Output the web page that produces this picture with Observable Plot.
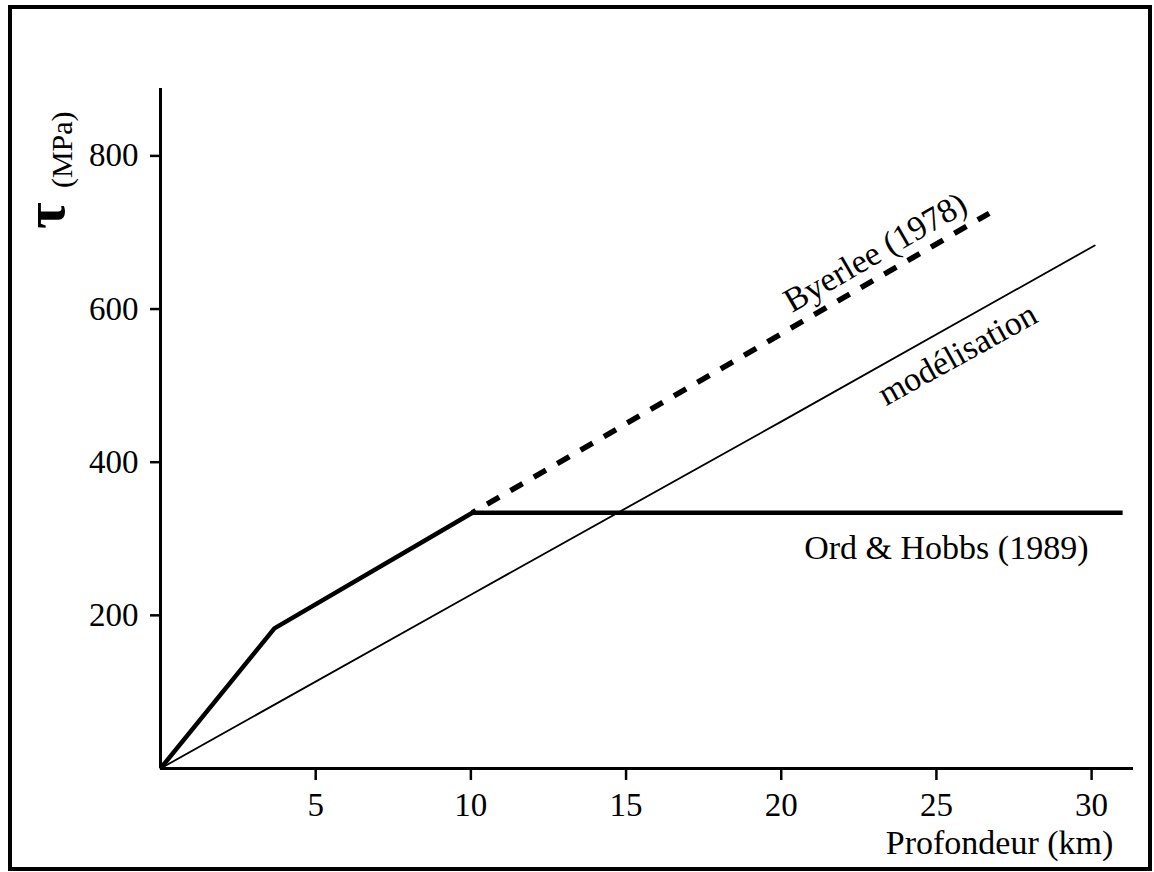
<!DOCTYPE html>
<html><head><meta charset="utf-8">
<script src="https://cdn.jsdelivr.net/npm/d3@7"></script>
<script src="https://cdn.jsdelivr.net/npm/@observablehq/plot@0.6"></script>
<style>
html,body{margin:0;padding:0;background:#fff;color:#000;}
#wrap{position:relative;width:1154px;height:872px;overflow:hidden;}
#frame{position:absolute;left:8px;top:5px;width:1136px;height:858px;border:4px solid #000;pointer-events:none;}
</style></head><body><div id="wrap"><div id="frame"></div></div>
<script>
// Axis ticks
const xTicks = [5, 10, 15, 20, 25, 30];
const yTicks = [200, 400, 600, 800];
// Ord & Hobbs (1989) : profondeur (km), tau (MPa)
const ordDepth = [0, 3.67, 10.05, 31.0];
const ordTau = [0, 183, 334, 334];
// Byerlee (1978)
const byerleeDepth = [10.05, 26.7];
const byerleeTau = [334, 725];
// modélisation
const modelDepth = [0, 10, 20, 30.1];
const modelTau = [0, 227, 453, 683];
// Labels
const seriesNames = ["Ord & Hobbs (1989)", "Byerlee (1978)", "modélisation"];
const xLabel = "Profondeur (km)";
const yLabelSymbol = "τ";
const yLabelUnit = "(MPa)";

const toRows = (xs, ys) => xs.map((x, i) => ({x, y: ys[i]}));
const ord = toRows(ordDepth, ordTau);
const byerlee = toRows(byerleeDepth, byerleeTau);
const model = toRows(modelDepth, modelTau);

const font = "'Liberation Serif', 'Times New Roman', serif";

const chart = Plot.plot({
  width: 1154,
  height: 872,
  marginLeft: 160,
  marginRight: 21,
  marginTop: 88,
  marginBottom: 104,
  style: {fontFamily: font, fontSize: "33px", color: "#000", background: "transparent", overflow: "visible"},
  x: {domain: [0, 31.35], label: null},
  y: {domain: [0, 888], label: null},
  marks: [
    Plot.axisX({ticks: xTicks, tickSize: 12, tickPadding: 12, fontSize: 33, strokeWidth: 2.5, label: null}),
    Plot.axisY({ticks: yTicks, tickSize: 10, tickPadding: 12, fontSize: 33, strokeWidth: 2.5, label: null}),
    Plot.ruleY([0], {strokeWidth: 3}),
    Plot.ruleX([0], {strokeWidth: 3}),
    Plot.line(model, {x: "x", y: "y", strokeWidth: 1.8}),
    Plot.line(byerlee, {x: "x", y: "y", strokeWidth: 5.5, strokeDasharray: "14,13", strokeDashoffset: 10, strokeLinecap: "butt"}),
    Plot.line(ord, {x: "x", y: "y", strokeWidth: 4.5, strokeLinejoin: "miter", strokeLinecap: "butt"}),
    Plot.text([{x: 29.9, y: 288, t: seriesNames[0]}], {x: "x", y: "y", text: "t", textAnchor: "end", lineAnchor: "middle", fontSize: 34}),
    Plot.text([{x: 23.03, y: 674, t: seriesNames[1]}], {x: "x", y: "y", text: "t", rotate: -30, textAnchor: "middle", lineAnchor: "middle", fontSize: 34}),
    Plot.text([{x: 25.68, y: 541, t: seriesNames[2]}], {x: "x", y: "y", text: "t", rotate: -29, textAnchor: "middle", lineAnchor: "middle", fontSize: 34}),
    Plot.text([{x: 30.7, y: 0, t: xLabel}], {x: "x", y: "y", text: "t", textAnchor: "end", lineAnchor: "bottom", dy: 85, fontSize: 34}),
    Plot.text([{x: 0, y: 722, t: yLabelSymbol}], {x: "x", y: "y", text: "t", rotate: -90, textAnchor: "middle", lineAnchor: "bottom", dx: -97, fontSize: 58, fontWeight: "bold"}),
    Plot.text([{x: 0, y: 808, t: yLabelUnit}], {x: "x", y: "y", text: "t", rotate: -90, textAnchor: "middle", lineAnchor: "bottom", dx: -89, fontSize: 30})
  ]
});
document.getElementById("wrap").insertBefore(chart, document.getElementById("frame"));
</script>
</body></html>
